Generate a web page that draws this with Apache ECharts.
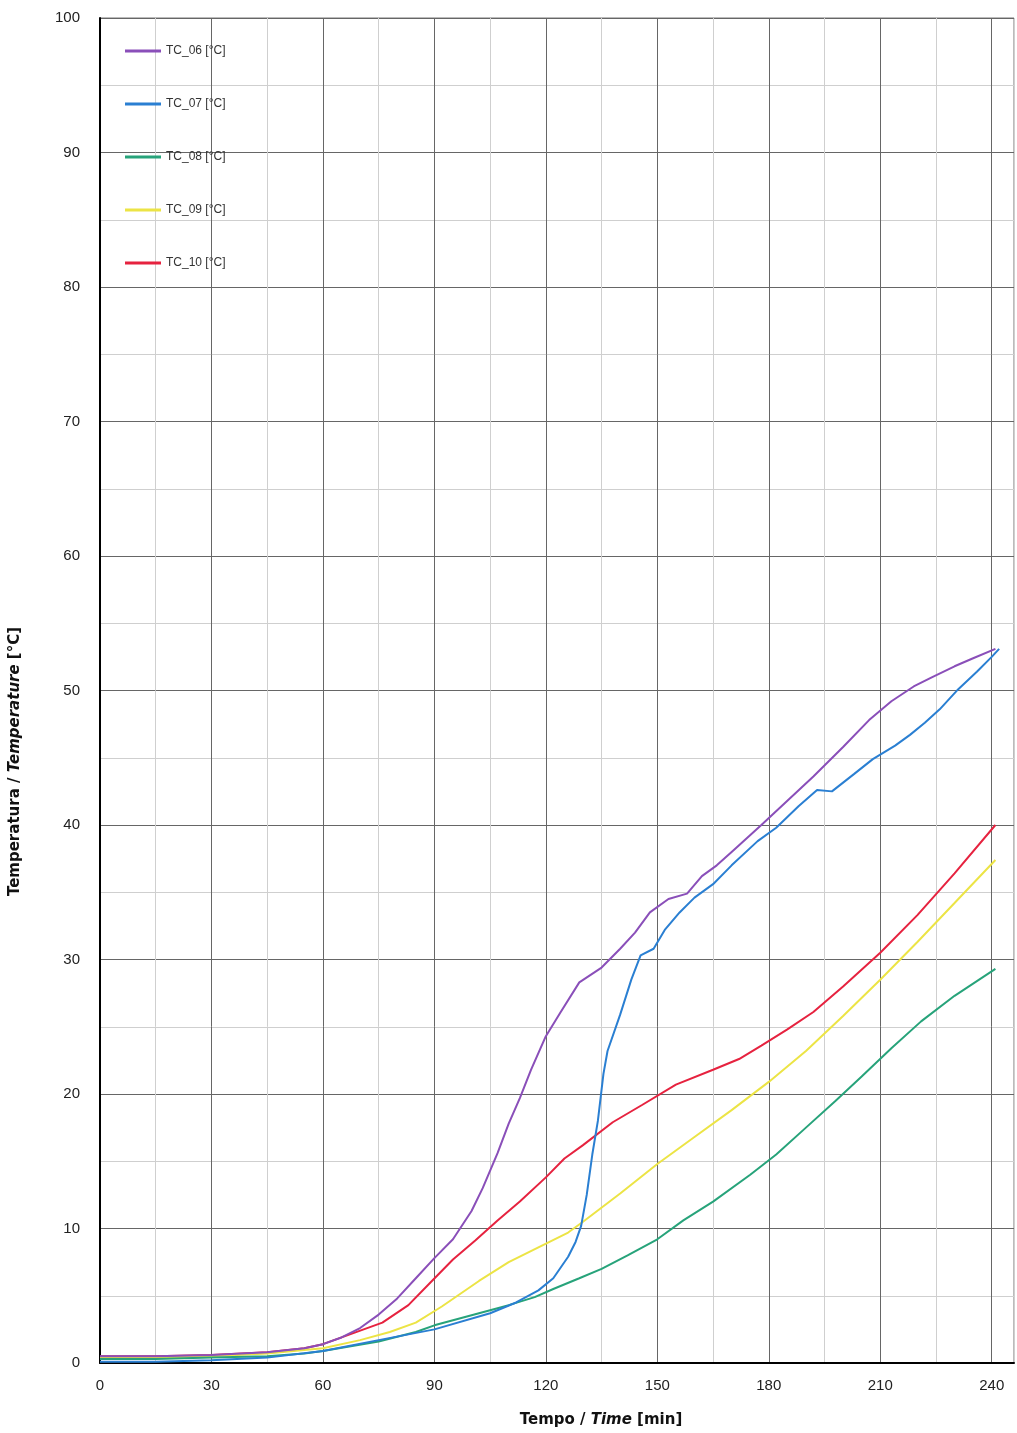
<!DOCTYPE html>
<html>
<head>
<meta charset="utf-8">
<script src="https://cdn.jsdelivr.net/npm/echarts@6/dist/echarts.min.js"></script>
<style>
  html, body { margin: 0; padding: 0; background: #fff; }
  #chart { width: 1017px; height: 1433px; }
</style>
</head>
<body>
<div id="chart"></div>
<script>
// [tempo min, temperatura °C]
var tc06 = [[0,0.5],[15,0.5],[30,0.6],[45,0.8],[55,1.1],[60,1.4],[65,1.9],[70,2.6],[75,3.6],[80,4.8],[85,6.3],[90,7.8],[95,9.2],[100,11.3],[103,13],[107,15.6],[110,17.8],[113,19.7],[116,21.8],[120,24.3],[124,26.1],[129,28.3],[135,29.4],[140,30.8],[144,32],[148,33.5],[153,34.5],[158,34.9],[162,36.2],[166,37],[170,38],[174,39],[178,40],[185,41.8],[192,43.6],[200,45.8],[207,47.8],[213,49.2],[219,50.3],[224,51],[230,51.8],[235,52.4],[241,53.1]];
var tc07 = [[0,0.1],[15,0.1],[30,0.2],[45,0.4],[60,0.9],[75,1.7],[90,2.5],[105,3.7],[112,4.5],[118,5.4],[122,6.3],[126,7.9],[128,9],[129.5,10.2],[131,12.5],[132.5,15.5],[134,18],[135.5,21.5],[136.6,23.2],[140,25.9],[143,28.5],[145.5,30.3],[149,30.8],[152,32.2],[156,33.5],[160,34.6],[165,35.6],[170,37],[177,38.8],[182,39.8],[188,41.4],[193,42.6],[197,42.5],[203,43.8],[208,44.9],[214,45.9],[218,46.7],[222,47.6],[226,48.6],[231,50.1],[236,51.4],[240,52.5],[242,53.1]];
var tc08 = [[0,0.3],[15,0.3],[30,0.4],[45,0.5],[55,0.7],[60,0.9],[75,1.6],[85,2.3],[90,2.8],[102,3.7],[110,4.3],[117,4.9],[122,5.5],[129,6.3],[135,7],[142,8],[150,9.2],[157,10.6],[165,12],[175,14],[182,15.5],[190,17.5],[198,19.5],[205,21.3],[213,23.4],[221,25.4],[230,27.3],[241,29.3]];
var tc09 = [[0,0.4],[15,0.4],[30,0.5],[45,0.7],[60,1.1],[70,1.7],[78,2.3],[85,3],[92,4.2],[102,6.1],[110,7.5],[118,8.6],[126,9.7],[130,10.5],[140,12.6],[150,14.8],[160,16.8],[170,18.8],[180,20.9],[190,23.2],[200,25.8],[210,28.5],[220,31.3],[230,34.2],[241,37.4]];
var tc10 = [[0,0.5],[15,0.5],[30,0.6],[45,0.8],[55,1.1],[60,1.4],[68,2.2],[76,3],[83,4.3],[89,6],[95,7.7],[101,9.1],[107,10.6],[113,12],[120,13.8],[125,15.2],[130,16.2],[138,17.9],[146,19.2],[155,20.7],[165,21.8],[172,22.6],[178,23.6],[185,24.8],[192,26.1],[200,28],[210,30.5],[220,33.3],[230,36.4],[241,40]];

var seriesNames = ['TC_06 [°C]', 'TC_07 [°C]', 'TC_08 [°C]', 'TC_09 [°C]', 'TC_10 [°C]'];
var seriesColors = ['#8a4fb9', '#2a7fd2', '#27a37a', '#ece445', '#e6223f'];
var xTicks = [0, 30, 60, 90, 120, 150, 180, 210, 240];
var yTicks = [0, 10, 20, 30, 40, 50, 60, 70, 80, 90, 100];

var chart = echarts.init(document.getElementById('chart'));
var allData = [tc06, tc07, tc08, tc09, tc10];

var nameRich = {
  b: { fontSize: 15, fontWeight: 'bold', color: '#111', fontFamily: 'DejaVu Sans' },
  bi: { fontSize: 15, fontWeight: 'bold', fontStyle: 'italic', color: '#111', fontFamily: 'DejaVu Sans' }
};

chart.setOption({
  animation: false,
  textStyle: { fontFamily: 'Liberation Sans, Arial, sans-serif' },
  grid: {
    left: 97, right: 2, top: 18, bottom: 63,
    show: true, borderColor: '#777', borderWidth: 1
  },
  legend: {
    orient: 'vertical',
    left: 120, top: 40,
    itemGap: 41,
    itemWidth: 36, itemHeight: 3,
    icon: 'rect',
    textStyle: { fontSize: 12, color: '#333' },
    data: seriesNames
  },
  xAxis: {
    type: 'value',
    min: 0, max: 246, interval: 15,
    name: '{b|Tempo / }{bi|Time}{b| [min]}',
    nameLocation: 'middle',
    nameGap: 50,
    nameTextStyle: { rich: nameRich, padding: [0, 0, 0, 88] },
    axisLine: { show: true, onZero: false, lineStyle: { color: '#000', width: 2 } },
    axisTick: { show: false },
    axisLabel: {
      fontSize: 15, color: '#222', margin: 15,
      formatter: function (v) { return xTicks.indexOf(v) >= 0 ? String(v) : ''; }
    },
    splitLine: { show: true, lineStyle: { color: ['#666', '#cfcfcf'], width: 1 } }
  },
  yAxis: {
    type: 'value',
    min: 0, max: 100, interval: 5,
    name: '{b|Temperatura / }{bi|Temperature}{b| [°C]}',
    nameLocation: 'middle',
    nameGap: 77,
    nameTextStyle: { rich: nameRich, padding: [0, 142, 0, 0] },
    axisLine: { show: true, onZero: false, lineStyle: { color: '#000', width: 2 } },
    axisTick: { show: false },
    axisLabel: {
      fontSize: 15, color: '#222', margin: 20,
      formatter: function (v) { return yTicks.indexOf(v) >= 0 ? String(v) : ''; }
    },
    splitLine: { show: true, lineStyle: { color: ['#666', '#cfcfcf'], width: 1 } }
  },
  series: allData.map(function (d, i) {
    return {
      name: seriesNames[i],
      type: 'line',
      data: d,
      showSymbol: false,
      symbol: 'none',
      color: seriesColors[i],
      lineStyle: { width: 2, color: seriesColors[i] },
      z: 10 - i
    };
  })
});
</script>
</body>
</html>
